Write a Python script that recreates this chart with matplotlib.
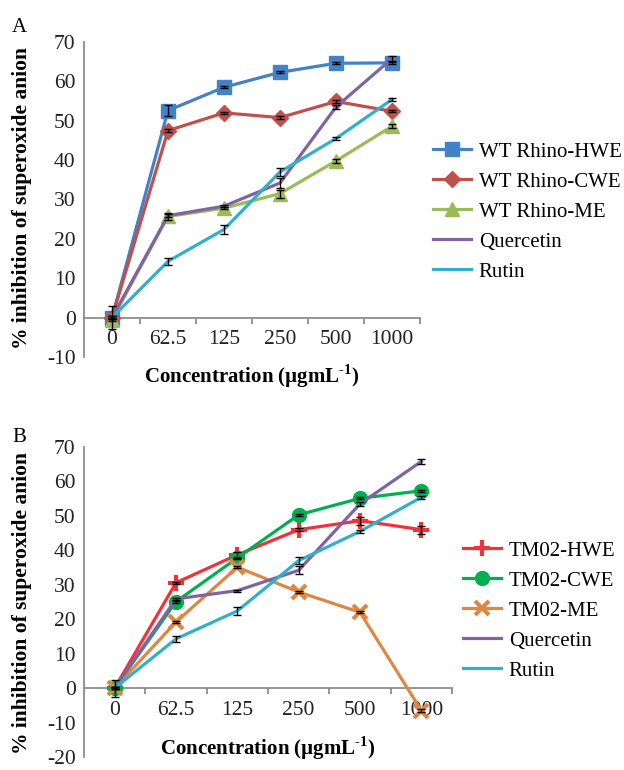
import numpy as np
import matplotlib
matplotlib.use("Agg")
import matplotlib.pyplot as plt

plt.rcParams['font.family'] = ['Liberation Serif', 'DejaVu Serif']
plt.rcParams['mathtext.fontset'] = 'custom'
plt.rcParams['mathtext.rm'] = 'Liberation Serif:bold'
plt.rcParams['mathtext.bf'] = 'Liberation Serif:bold'
plt.rcParams['axes.unicode_minus'] = False

conc = ['0', '62.5', '125', '250', '500', '1000']

# panel A values (% inhibition)
wt_hwe = [0, 52.6, 58.5, 62.3, 64.6, 64.7]
wt_cwe = [0, 47.5, 52.0, 50.8, 54.9, 52.4]
wt_me = [-0.5, 25.7, 27.8, 31.5, 39.8, 48.6]
quercetin = [0, 25.9, 28.3, 34.2, 53.5, 65.8]
rutin = [0, 14.3, 22.4, 37.0, 45.5, 55.4]

wt_hwe_err = [3.0, 1.5, 0.3, 0.3, 0.3, 0.3]
wt_cwe_err = [0.3, 0.3, 0.3, 0.3, 0.3, 0.3]
wt_me_err = [0.3, 0.8, 0.3, 1.0, 0.5, 0.5]
quercetin_err = [0.3, 0.3, 0.3, 1.2, 0.6, 0.6]
rutin_err = [0.3, 0.9, 1.2, 1.1, 0.4, 0.5]

# panel B values
tm_hwe = [0, 30.6, 38.7, 46.0, 48.6, 46.0]
tm_cwe = [0, 25.1, 37.8, 50.3, 55.1, 57.3]
tm_me = [0, 19.2, 35.1, 27.9, 22.0, -6.5]

tm_hwe_err = [0.3, 0.3, 0.8, 0.5, 1.2, 1.2]
tm_cwe_err = [0.3, 0.3, 0.3, 0.3, 0.3, 0.3]
tm_me_err = [2.5, 0.3, 0.3, 0.3, 0.3, 0.3]

fig = plt.figure(figsize=(6.24, 7.70), dpi=100)
W, H = 624, 770


def setup(ax, ymin, ymax):
    ax.set_xlim(0, 6)
    ax.set_ylim(ymin, ymax)
    ax.set_yticks(np.arange(ymin, ymax + 1, 10))
    for s in ['top', 'right']:
        ax.spines[s].set_visible(False)
    ax.spines['left'].set_color('#8c8c8c')
    ax.spines['bottom'].set_color('#8c8c8c')
    ax.spines['left'].set_linewidth(1.3)
    ax.spines['bottom'].set_linewidth(1.3)
    ax.spines['bottom'].set_position(('data', 0))
    ax.set_xticks(np.arange(6) + 0.5)
    ax.set_xticklabels(conc)
    ax.set_xticks(np.arange(1, 7), minor=True)
    ax.tick_params(axis='x', which='major', length=0, pad=9, labelsize=15.5, colors='#222222')
    ax.tick_params(axis='x', which='minor', length=4, width=1.3, color='#8c8c8c', direction='out')
    ax.tick_params(axis='y', length=0, pad=6, labelsize=15.5, colors='#222222')
    ax.patch.set_alpha(0)


def draw(ax, vals, errs, color, marker, ms, mew, label):
    x = np.arange(6) + 0.5
    ax.plot(x, vals, color=color, lw=2.3, marker=marker, ms=ms, mew=mew,
            mec=color, mfc=color, label=label, zorder=3)
    ax.errorbar(x, vals, yerr=errs, fmt='none', ecolor='black', elinewidth=1.0,
                capsize=3, capthick=1.0, zorder=4)


xlab = 'Concentration (µgmL$^{\\text{-1}}$)'

# Panel A
axA = fig.add_axes([84 / W, 1 - 357 / H, 336 / W, 315 / H])
setup(axA, -10, 70)
draw(axA, wt_hwe, wt_hwe_err, '#4382c6', 's', 9.5, 1, 'WT Rhino-HWE')
draw(axA, wt_cwe, wt_cwe_err, '#c0504d', 'D', 8, 1, 'WT Rhino-CWE')
draw(axA, wt_me, wt_me_err, '#9bbb59', '^', 10, 1, 'WT Rhino-ME')
draw(axA, quercetin, quercetin_err, '#8064a2', None, 0, 1, 'Quercetin')
draw(axA, rutin, rutin_err, '#31b0cc', None, 0, 1, 'Rutin')
axA.text(-0.185, 0.505, '% inhibition of superoxide anion', transform=axA.transAxes,
         rotation=90, ha='center', va='center', fontsize=15.5, fontweight='bold')
axA.text(0.5, -0.06, xlab, transform=axA.transAxes,
         ha='center', va='center', fontsize=15, fontweight='bold')
fig.text(12 / W, 1 - 28 / H, 'A', fontsize=15, ha='left', va='center')
axA.legend(loc='upper left', bbox_to_anchor=(433 / W, 1 - 142 / H), bbox_transform=fig.transFigure,
           frameon=False, fontsize=15, labelspacing=0.5, handlelength=1.8, handletextpad=0.4,
           borderpad=0, borderaxespad=0)

# Panel B
axB = fig.add_axes([84 / W, 1 - 757 / H, 368 / W, 310 / H])
setup(axB, -20, 70)
draw(axB, tm_hwe, tm_hwe_err, '#f0333b', '+', 11, 3, 'TM02-HWE')
draw(axB, tm_cwe, tm_cwe_err, '#00b050', 'o', 10, 1, 'TM02-CWE')
draw(axB, tm_me, tm_me_err, '#dd8744', 'x', 10, 3, 'TM02-ME')
draw(axB, quercetin, quercetin_err, '#8064a2', None, 0, 1, 'Quercetin')
draw(axB, rutin, rutin_err, '#31b0cc', None, 0, 1, 'Rutin')
axB.text(-0.168, 0.497, '% inhibition of superoxide anion', transform=axB.transAxes,
         rotation=90, ha='center', va='center', fontsize=15.5, fontweight='bold')
axB.text(0.5, 0.03, xlab, transform=axB.transAxes,
         ha='center', va='center', fontsize=15, fontweight='bold')
fig.text(12 / W, 1 - 437 / H, 'B', fontsize=15, ha='left', va='center')
axB.legend(loc='upper left', bbox_to_anchor=(463 / W, 1 - 541 / H), bbox_transform=fig.transFigure,
           frameon=False, fontsize=15, labelspacing=0.5, handlelength=1.8, handletextpad=0.4,
           borderpad=0, borderaxespad=0)

plt.savefig('out.png', dpi=100)
